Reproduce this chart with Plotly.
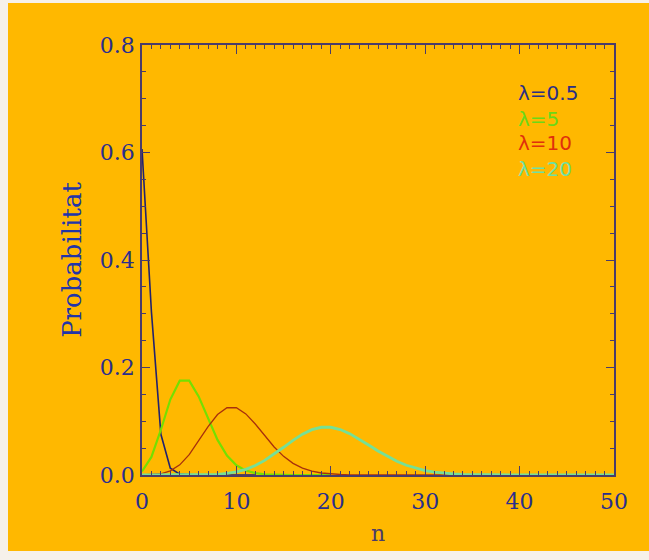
import plotly.graph_objects as go

# Poisson probabilities P(n) for four mean values, sampled at integer n
lam_labels = ["λ=0.5", "λ=5", "λ=10", "λ=20"]

p_05 = [0.6065, 0.3033, 0.0758, 0.0126, 0.0016, 0.0002, 0.0, 0.0, 0.0, 0.0,
        0.0, 0.0, 0.0]

p_5 = [0.0067, 0.0337, 0.0842, 0.1404, 0.1755, 0.1755, 0.1462, 0.1044, 0.0653,
       0.0363, 0.0181, 0.0082, 0.0034, 0.0013, 0.0005, 0.0002, 0.0, 0.0, 0.0,
       0.0, 0.0]

p_10 = [0.0000, 0.0005, 0.0023, 0.0076, 0.0189, 0.0378, 0.0631, 0.0901, 0.1126,
        0.1251, 0.1251, 0.1137, 0.0948, 0.0729, 0.0521, 0.0347, 0.0217, 0.0128,
        0.0071, 0.0037, 0.0019, 0.0009, 0.0004, 0.0002, 0.0001, 0.0, 0.0, 0.0,
        0.0, 0.0, 0.0, 0.0, 0.0, 0.0]

p_20 = [0.0, 0.0, 0.0, 0.0, 0.0, 0.0001, 0.0002, 0.0005, 0.0013, 0.0029,
        0.0058, 0.0106, 0.0176, 0.0271, 0.0387, 0.0516, 0.0646, 0.0760, 0.0844,
        0.0888, 0.0888, 0.0846, 0.0769, 0.0669, 0.0557, 0.0446, 0.0343, 0.0254,
        0.0181, 0.0125, 0.0083, 0.0054, 0.0034, 0.0020, 0.0012, 0.0007, 0.0004,
        0.0002, 0.0001, 0.0, 0.0, 0.0, 0.0, 0.0, 0.0, 0.0, 0.0, 0.0, 0.0, 0.0,
        0.0]

series = [p_05, p_5, p_10, p_20]
line_colors = ["#22226e", "#74e000", "#a8300c", "#76e096"]
line_widths = [1.6, 2.2, 1.3, 2.8]
text_colors = ["#2a2e86", "#6ad818", "#e0300c", "#6ee0a4"]

BG = "#FFB800"
AXIS = "#4a3c6a"
TICKTXT = "#2a2e8c"

W, H = 649, 560
ML, MR, MT, MB = 142, 35, 45, 85

fig = go.Figure()
for vals, col, lw, name in zip(series, line_colors, line_widths, lam_labels):
    fig.add_trace(go.Scatter(
        x=list(range(len(vals))), y=vals, mode="lines", name=name,
        line=dict(color=col, width=lw), showlegend=False,
        hoverinfo="skip",
    ))

# legend drawn as coloured text labels in the upper right
legend_y = [0.711, 0.663, 0.618, 0.570]
for txt, col, yy in zip(lam_labels, text_colors, legend_y):
    fig.add_annotation(x=39.6, y=yy, xref="x", yref="y", text=txt,
                       showarrow=False, xanchor="left", yanchor="middle",
                       font=dict(family="DejaVu Sans", size=20, color=col))

# orange backdrop with a thin pale border at the page edge
pw, ph = W - ML - MR, H - MT - MB
def px_x(p):
    return (p - ML) / pw
def px_y(p):
    return (H - MB - p) / ph
fig.add_shape(type="rect", xref="paper", yref="paper", layer="below",
              x0=px_x(8), x1=px_x(W + 2), y0=px_y(551), y1=px_y(3),
              line=dict(width=0), fillcolor=BG)

axis_common = dict(
    showline=True, linecolor=AXIS, linewidth=1.5, mirror="ticks",
    ticks="inside", tickcolor=AXIS, tickwidth=1.3,
    showgrid=False, zeroline=False,
    tickfont=dict(family="DejaVu Serif", size=22, color=TICKTXT),
)

fig.update_xaxes(
    range=[0, 50], dtick=10, ticklen=9,
    minor=dict(dtick=1, ticklen=4, ticks="inside", tickcolor=AXIS, tickwidth=1.1),
    ticklabelstandoff=6,
    title=dict(text="n", standoff=12,
               font=dict(family="DejaVu Serif", size=22, color=AXIS)),
    **axis_common,
)
fig.update_yaxes(
    range=[0, 0.8], dtick=0.2, tickformat=".1f", ticklen=8,
    minor=dict(dtick=0.05, ticklen=4, ticks="inside", tickcolor=AXIS, tickwidth=1.1),
    ticklabelstandoff=1,
    title=dict(text="Probabilitat", standoff=11,
               font=dict(family="DejaVu Serif", size=26, color="#2234a8")),
    **axis_common,
)

fig.update_layout(
    width=W, height=H,
    margin=dict(l=ML, r=MR, t=MT, b=MB),
    paper_bgcolor="#f6f1ea", plot_bgcolor=BG,
)

fig.write_html("out.html")
